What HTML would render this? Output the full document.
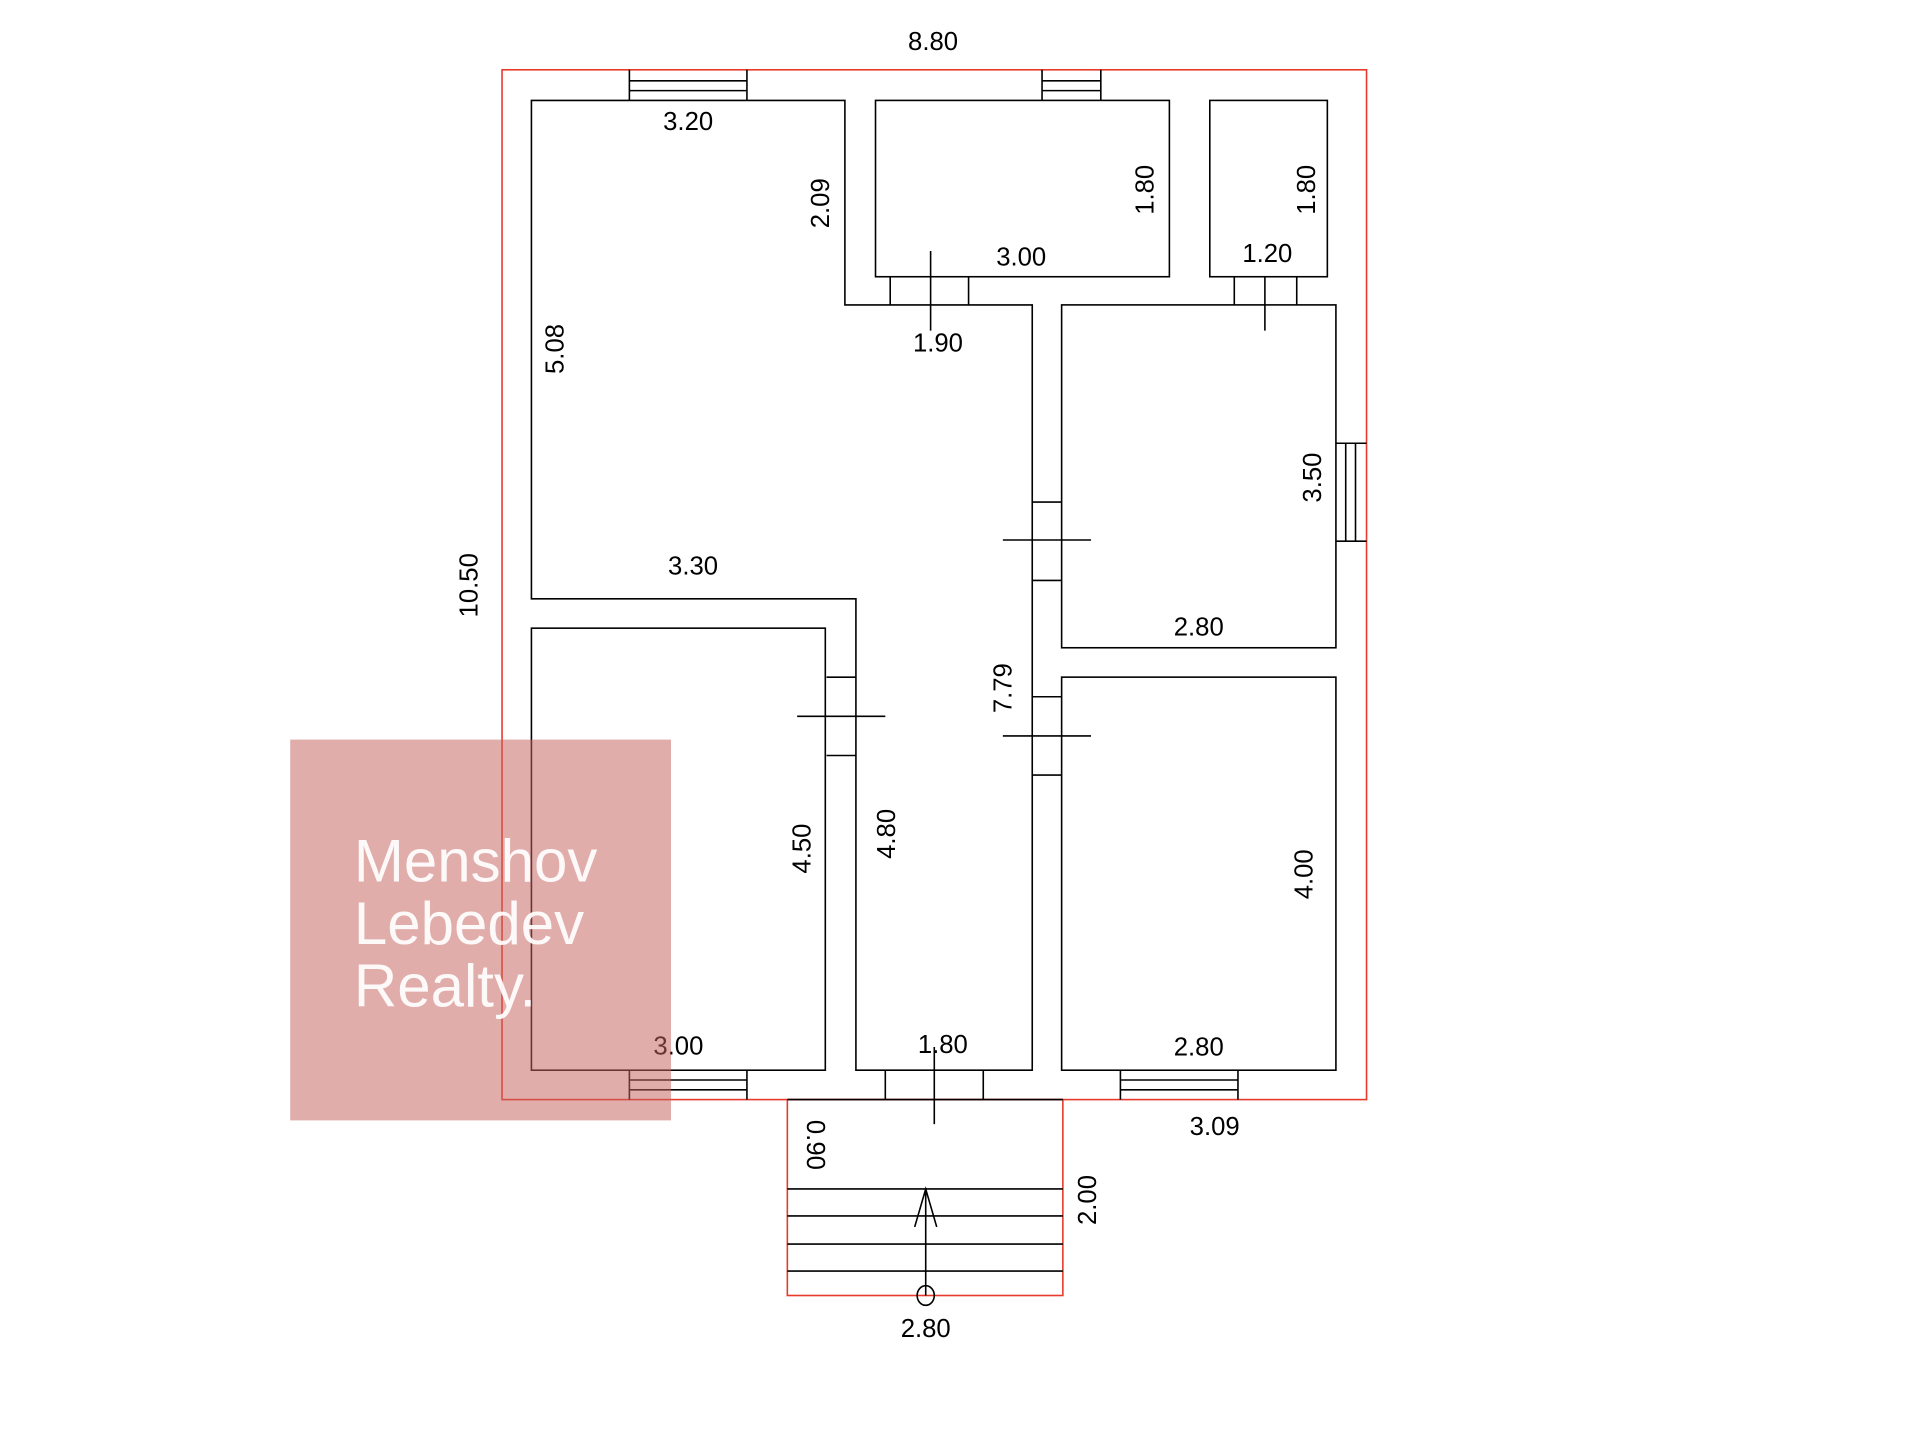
<!DOCTYPE html>
<html><head><meta charset="utf-8"><style>
html,body{margin:0;padding:0;background:#fff;}
svg{display:block;}
text{font-family:"Liberation Sans",Arial,sans-serif;}
</style></head><body>
<svg width="1920" height="1440" viewBox="0 0 1568 1176" xmlns="http://www.w3.org/2000/svg">
<rect width="1568" height="1176" fill="#fff"/>
<g fill="none" stroke="#e8392c" stroke-width="1.3">
<rect x="410" y="57" width="706" height="841"/>
<rect x="643" y="898" width="225" height="160"/>
</g>
<g fill="none" stroke="#000" stroke-width="1.3">
<path d="M434,82 H690 V249 H843 V874 H699 V489 H434 Z"/>
<rect x="715" y="82" width="240" height="144"/>
<rect x="988" y="82" width="96" height="144"/>
<rect x="867" y="249" width="224" height="280"/>
<rect x="867" y="553" width="224" height="321"/>
<rect x="434" y="513" width="240" height="361"/>
<path d="M514,57V82M610,57V82M514,66H610M514,74H610"/>
<path d="M851,57V82M899,57V82M851,66H899M851,74H899"/>
<path d="M1091,362H1116M1091,442H1116M1099,362V442M1107,362V442"/>
<path d="M514,874V898M610,874V898M514,882H610M514,890H610"/>
<path d="M915,874V898M1011,874V898M915,882H1011M915,890H1011"/>
<path d="M727,226V249M791,226V249M760,205V270"/>
<path d="M1008,226V249M1059,226V249M1033,226V270"/>
<path d="M843,410H867M843,474H867M819,441H891"/>
<path d="M843,569H867M843,633H867M819,601H891"/>
<path d="M675,553H699M675,617H699M651,585H723"/>
<path d="M723,874V898M803,874V898M763,855V918M643,898H868"/>
<path d="M643,971H868M643,993H868M643,1016H868M643,1038H868"/>
<path d="M756,1058V971M747,1002L756,971L765,1002"/>
<ellipse cx="756" cy="1058" rx="7" ry="8"/>
</g>
<g font-size="21" fill="#000" text-anchor="middle">
<text x="762" y="41">8.80</text>
<text x="562" y="106">3.20</text>
<text transform="translate(677,166) rotate(-90)">2.09</text>
<text transform="translate(942,155) rotate(-90)">1.80</text>
<text transform="translate(1074,155) rotate(-90)">1.80</text>
<text x="834" y="217">3.00</text>
<text x="1035" y="214">1.20</text>
<text x="766" y="287">1.90</text>
<text transform="translate(460,285) rotate(-90)">5.08</text>
<text transform="translate(1079,390) rotate(-90)">3.50</text>
<text transform="translate(390,478) rotate(-90)">10.50</text>
<text x="566" y="469">3.30</text>
<text x="979" y="519">2.80</text>
<text transform="translate(826,562) rotate(-90)">7.79</text>
<text transform="translate(662,693) rotate(-90)">4.50</text>
<text transform="translate(731,681) rotate(-90)">4.80</text>
<text transform="translate(1072,714) rotate(-90)">4.00</text>
<text x="554" y="861">3.00</text>
<text x="770" y="860">1.80</text>
<text x="979" y="862">2.80</text>
<text x="992" y="927">3.09</text>
<text transform="translate(659,935) rotate(90)">0.90</text>
<text transform="translate(895,980) rotate(-90)">2.00</text>
<text x="756" y="1092">2.80</text>
</g>
<rect x="237" y="604" width="311" height="311" fill="rgb(196,100,96)" fill-opacity="0.53"/>
<g font-size="49" fill="#fff" fill-opacity="0.93">
<text x="289" y="720">Menshov</text>
<text x="289" y="771">Lebedev</text>
<text x="289" y="822">Realty.</text>
</g>
</svg>
</body></html>
